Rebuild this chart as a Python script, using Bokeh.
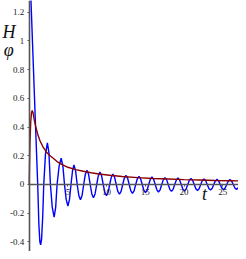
from bokeh.plotting import figure
from bokeh.models import Range1d, FixedTicker, Label
from bokeh.embed import file_html
from bokeh.resources import INLINE

# ---- data ----
blue_t = [0.0, 0.23, 0.54, 0.85, 1.10, 1.25, 1.38, 1.48, 1.60, 1.75, 1.88, 2.10, 2.35, 2.55, 2.74,
          2.98, 3.22, 3.42, 3.60, 3.87, 4.13, 4.35, 4.56, 4.78, 5.00, 5.20, 5.40, 5.60,
          5.78, 5.99, 6.20, 6.41, 6.62, 6.83, 7.04, 7.25, 7.46, 7.67, 7.88, 8.09, 8.30, 8.51,
          8.72, 8.93, 9.14, 9.35, 9.56, 9.77, 9.98, 10.19, 10.40, 10.61, 10.82, 11.03, 11.24,
          11.45, 11.66, 11.87, 12.08, 12.29, 12.50, 12.71, 12.92, 13.13, 13.34, 13.55, 13.76,
          13.97, 14.18, 14.39, 14.60, 14.81, 15.02, 15.23, 15.44, 15.65, 15.86, 16.07, 16.28,
          16.49, 16.70, 16.91, 17.12, 17.33, 17.54, 17.75, 17.96, 18.17, 18.38, 18.59, 18.80,
          19.01, 19.22, 19.43, 19.64, 19.85, 20.06, 20.27, 20.48, 20.69, 20.90, 21.11, 21.32,
          21.53, 21.74, 21.95, 22.16, 22.37, 22.58, 22.79, 23.00, 23.21, 23.42, 23.63, 23.84,
          24.05, 24.26, 24.47, 24.68, 24.89, 25.10, 25.31, 25.52, 25.73, 25.94, 26.15, 26.36,
          26.57, 26.78, 26.99, 27.20, 27.41, 27.62, 27.83, 28.04]
blue_H = [1.62, 1.28, 0.82, 0.36, 0.0, -0.28, -0.40, -0.42, -0.38, -0.22, 0.0, 0.21, 0.29, 0.22, 0.0,
          -0.16, -0.228, -0.16, 0.0, 0.13, 0.183, 0.13, 0.0, -0.105, -0.15, -0.105, 0.0, 0.097,
          0.137, 0.097, 0.0, -0.076, -0.107, -0.076, 0.0, 0.071, 0.100, 0.071, 0.0, -0.066, -0.093, -0.066,
          0.0, 0.061, 0.086, 0.061, 0.0, -0.055, -0.078, -0.055, 0.0, 0.051, 0.072, 0.051, 0.0,
          -0.048, -0.068, -0.048, 0.0, 0.045, 0.064, 0.045, 0.0, -0.044, -0.062, -0.044, 0.0,
          0.040, 0.057, 0.040, 0.0, -0.040, -0.056, -0.040, 0.0, 0.037, 0.052, 0.037, 0.0,
          -0.037, -0.052, -0.037, 0.0, 0.034, 0.048, 0.034, 0.0, -0.034, -0.048, -0.034, 0.0,
          0.032, 0.045, 0.032, 0.0, -0.032, -0.045, -0.032, 0.0, 0.030, 0.042, 0.030, 0.0,
          -0.030, -0.042, -0.030, 0.0, 0.028, 0.039, 0.028, 0.0, -0.028, -0.039, -0.028, 0.0,
          0.025, 0.036, 0.025, 0.0, -0.025, -0.036, -0.025, 0.0, 0.024, 0.034, 0.024, 0.0,
          -0.024, -0.034, -0.024, 0.0, 0.023, 0.032, 0.023, 0.0]

red_t = [0.0, 0.05, 0.10, 0.20, 0.30, 0.39, 0.50, 0.65, 0.86, 1.10, 1.38, 1.80, 2.24, 2.70, 3.10,
         3.60, 4.26, 5.0, 6.0, 7.0, 8.0, 9.0, 10.4, 12.0, 14.0, 16.0, 18.0, 20.0, 22.0, 24.0,
         26.0, 28.04]
red_H = [0.0, 0.16, 0.29, 0.44, 0.50, 0.516, 0.50, 0.45, 0.40, 0.35, 0.307, 0.26, 0.225, 0.20, 0.183,
         0.16, 0.139, 0.12, 0.104, 0.092, 0.082, 0.073, 0.064, 0.056, 0.048, 0.042, 0.038, 0.034,
         0.031, 0.028, 0.026, 0.024]

x_ticks = [5, 10, 15, 20, 25]
y_ticks = [-0.4, -0.2, 0, 0.2, 0.4, 0.6, 0.8, 1, 1.2]
y_tick_labels = {-0.4: "-0.4", -0.2: "-0.2", 0: "0", 0.2: "0.2", 0.4: "0.4", 0.6: "0.6",
                 0.8: "0.8", 1: "1", 1.2: "1.2"}

p = figure(width=238, height=251, output_backend="svg", toolbar_location=None,
           x_range=Range1d(-3.708, 27.04), y_range=Range1d(-0.4669, 1.2822),
           min_border=0, outline_line_color=None)
p.grid.visible = False
p.background_fill_color = "white"

p.line(blue_t, blue_H, line_color="#0000FF", line_width=1.4)
p.line(red_t, red_H, line_color="#8B0000", line_width=1.4)

for ax in (p.xaxis[0], p.yaxis[0]):
    ax.fixed_location = 0
    ax.axis_line_color = "#555555"
    ax.axis_line_width = 1.6
    ax.major_tick_line_color = "#555555"
    ax.major_tick_in = 0
    ax.major_tick_out = 2
    ax.minor_tick_line_color = None
    ax.major_label_text_font = "Liberation Serif"
    ax.major_label_text_font_size = "9px"
    ax.major_label_text_color = "#222222"
    ax.major_label_standoff = 3

p.xaxis.ticker = FixedTicker(ticks=x_ticks)
p.xaxis.bounds = (0, 28.05)
p.yaxis.ticker = FixedTicker(ticks=y_ticks)
p.yaxis.major_label_overrides = y_tick_labels

p.add_layout(Label(x=22.65, y=-0.063, text="t", text_font="Liberation Serif",
                   text_font_style="italic", text_font_size="18px",
                   text_align="center", text_baseline="middle", text_color="#111111"))
p.add_layout(Label(x=-2.6, y=1.06, text="H", text_font="Liberation Serif",
                   text_font_style="italic", text_font_size="18px",
                   text_align="center", text_baseline="middle", text_color="#111111"))
p.add_layout(Label(x=-2.65, y=0.935, text="\u03c6", text_font="Liberation Serif",
                   text_font_style="italic", text_font_size="18px",
                   text_align="center", text_baseline="middle", text_color="#111111"))

open("out.html", "w").write(file_html(p, INLINE))
